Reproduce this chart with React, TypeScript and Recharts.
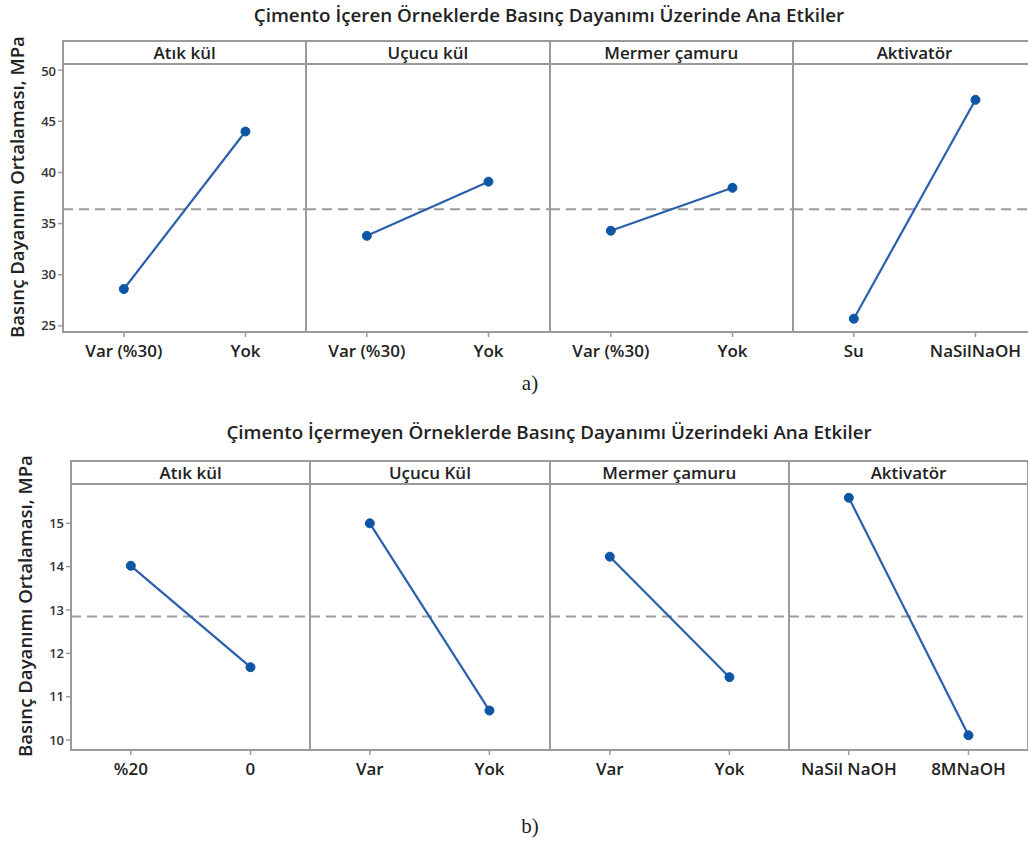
import React from "react";
import { LineChart, Line, XAxis, YAxis, ReferenceLine } from "recharts";

const topTitle = "Çimento İçeren Örneklerde Basınç Dayanımı Üzerinde Ana Etkiler";
const topFactors = ["Atık kül", "Uçucu kül", "Mermer çamuru", "Aktivatör"];
const topLevels = [
  ["Var (%30)", "Yok"],
  ["Var (%30)", "Yok"],
  ["Var (%30)", "Yok"],
  ["Su", "NaSilNaOH"],
];
const topMeans = [
  [28.6, 44.0],
  [33.8, 39.1],
  [34.3, 38.5],
  [25.7, 47.1],
];
const topGrandMean = 36.4;
const topTicks = [25, 30, 35, 40, 45, 50];

const bottomTitle = "Çimento İçermeyen Örneklerde Basınç Dayanımı Üzerindeki Ana Etkiler";
const bottomFactors = ["Atık kül", "Uçucu Kül", "Mermer çamuru", "Aktivatör"];
const bottomLevels = [
  ["%20", "0"],
  ["Var", "Yok"],
  ["Var", "Yok"],
  ["NaSil NaOH", "8MNaOH"],
];
const bottomMeans = [
  [14.02, 11.68],
  [15.0, 10.68],
  [14.23, 11.45],
  [15.59, 10.11],
];
const bottomGrandMean = 12.85;
const bottomTicks = [10, 11, 12, 13, 14, 15];

const yLabel = "Basınç Dayanımı Ortalaması, MPa";

const FONT = "'Open Sans', 'Noto Sans', sans-serif";
const FRAME = "#9a9a9a";
const LINE = "#2a60ab";
const DOT = "#0d56a6";
const TEXT = "#222";
const Y_W = 50;

interface Layout {
  left: number;
  top: number;
  headerH: number;
  plotH: number;
  panelW: number;
  domain: [number, number];
  titleY: number;
  labelX: number;
  caption: string;
  captionY: number;
}

function Figure({
  title,
  factors,
  levels,
  means,
  grand,
  ticks,
  lay,
}: {
  title: string;
  factors: string[];
  levels: string[][];
  means: number[][];
  grand: number;
  ticks: number[];
  lay: Layout;
}) {
  const plotTop = lay.top + lay.headerH;
  const frameH = lay.headerH + lay.plotH;
  return (
    <>
      <div
        style={{
          position: "absolute",
          left: 0,
          width: 1028,
          top: lay.titleY - 12,
          height: 24,
          lineHeight: "24px",
          textAlign: "center",
          paddingLeft: 70,
          boxSizing: "border-box",
          fontFamily: FONT,
          fontSize: 18.8,
          fontWeight: 600,
          color: TEXT,
        }}
      >
        {title}
      </div>
      <div
        style={{
          position: "absolute",
          left: lay.labelX - 200,
          top: plotTop + lay.plotH / 2 - lay.headerH / 2 - 12,
          width: 400,
          height: 24,
          lineHeight: "24px",
          textAlign: "center",
          transform: "rotate(-90deg)",
          fontFamily: FONT,
          fontSize: 18.6,
          fontWeight: 600,
          color: TEXT,
        }}
      >
        {yLabel}
      </div>
      {factors.map((f, i) => {
        const data = levels[i].map((lv, k) => ({ level: lv, mean: means[i][k] }));
        const first = i === 0;
        const x0 = lay.left + i * lay.panelW;
        return (
          <React.Fragment key={f}>
            <div
              style={{
                position: "absolute",
                left: x0 - 1,
                top: lay.top - 1,
                width: lay.panelW + 2,
                height: frameH + 2,
                border: `2px solid ${FRAME}`,
                boxSizing: "border-box",
              }}
            >
              <div
                style={{
                  height: lay.headerH - 1,
                  borderBottom: `2px solid ${FRAME}`,
                  textAlign: "center",
                  lineHeight: `${lay.headerH - 1}px`,
                  fontFamily: FONT,
                  fontSize: 17,
                  fontWeight: 600,
                  color: TEXT,
                }}
              >
                {f}
              </div>
            </div>
            <div
              style={{
                position: "absolute",
                left: x0 - (first ? Y_W : 0),
                top: plotTop,
              }}
            >
              <LineChart
                width={lay.panelW + (first ? Y_W : 0)}
                height={lay.plotH + 40}
                data={data}
                margin={{ top: 0, right: 0, bottom: 0, left: 0 }}
              >
                <XAxis
                  dataKey="level"
                  scale="point"
                  padding={{ left: lay.panelW / 4, right: lay.panelW / 4 }}
                  interval={0}
                  height={40}
                  axisLine={false}
                  tickLine={{ stroke: FRAME, strokeWidth: 1.5 }}
                  tickSize={5}
                  tickMargin={8}
                  tick={{ fontSize: 17, fontWeight: 600, fill: TEXT, fontFamily: FONT }}
                />
                {first ? (
                  <YAxis
                    type="number"
                    domain={lay.domain}
                    allowDataOverflow
                    ticks={ticks}
                    width={Y_W}
                    axisLine={false}
                    tickLine={{ stroke: FRAME, strokeWidth: 1.5 }}
                    tickSize={5}
                    tickMargin={2}
                    tick={{ fontSize: 13, fontWeight: 600, fill: "#333", fontFamily: FONT }}
                  />
                ) : (
                  <YAxis type="number" domain={lay.domain} allowDataOverflow hide />
                )}
                <ReferenceLine
                  y={grand}
                  stroke="#9c9c9c"
                  strokeWidth={1.8}
                  strokeDasharray="10 6"
                  ifOverflow="visible"
                />
                <Line
                  dataKey="mean"
                  stroke={LINE}
                  strokeWidth={2.2}
                  dot={{ r: 4.5, fill: DOT, stroke: DOT, strokeWidth: 1 }}
                  isAnimationActive={false}
                />
              </LineChart>
            </div>
          </React.Fragment>
        );
      })}
      <div
        style={{
          position: "absolute",
          left: 480,
          width: 100,
          top: lay.captionY - 14,
          height: 28,
          lineHeight: "28px",
          textAlign: "center",
          fontFamily: "'Liberation Serif', 'DejaVu Serif', serif",
          fontSize: 21,
          color: TEXT,
        }}
      >
        {lay.caption}
      </div>
    </>
  );
}

const topLayout: Layout = {
  left: 63,
  top: 41,
  headerH: 22,
  plotH: 269,
  panelW: 243.3,
  domain: [24.4, 50.7],
  titleY: 15,
  labelX: 17,
  caption: "a)",
  captionY: 383,
};

const bottomLayout: Layout = {
  left: 71,
  top: 461,
  headerH: 22,
  plotH: 267,
  panelW: 239.3,
  domain: [9.77, 15.93],
  titleY: 432,
  labelX: 25,
  caption: "b)",
  captionY: 826,
};

export default function App() {
  return (
    <div
      style={{
        position: "absolute",
        left: 0,
        top: 0,
        width: 1028,
        height: 848,
        overflow: "hidden",
        background: "#fff",
      }}
    >
      <Figure
        title={topTitle}
        factors={topFactors}
        levels={topLevels}
        means={topMeans}
        grand={topGrandMean}
        ticks={topTicks}
        lay={topLayout}
      />
      <Figure
        title={bottomTitle}
        factors={bottomFactors}
        levels={bottomLevels}
        means={bottomMeans}
        grand={bottomGrandMean}
        ticks={bottomTicks}
        lay={bottomLayout}
      />
    </div>
  );
}
